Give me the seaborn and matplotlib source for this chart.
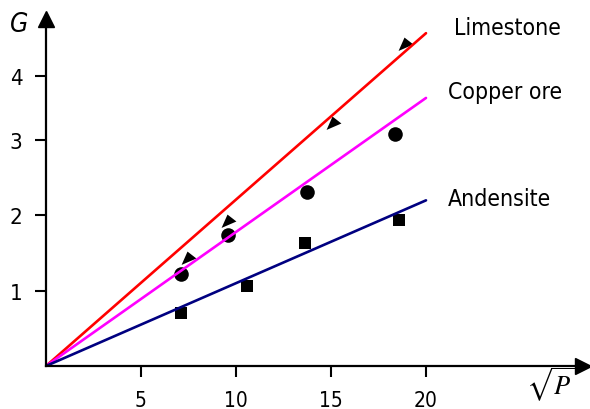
import numpy as np
import pandas as pd
import matplotlib
matplotlib.use('Agg')
import matplotlib.pyplot as plt
import seaborn as sns

# materials and fitted lines (G at sqrt(P) = 20)
materials = ['Limestone', 'Copper ore', 'Andensite']
line_colors = ['#ff0000', '#ff00ff', '#000080']
line_x = [0, 20]
line_end_g = [4.42, 3.56, 2.20]

# measured points
tri_x = [7.47, 9.58, 15.1, 18.9]
tri_g = [1.43, 1.93, 3.23, 4.28]
circ_x = [7.1, 9.58, 13.74, 18.37]
circ_g = [1.22, 1.74, 2.31, 3.08]
sq_x = [7.1, 10.58, 13.63, 18.58]
sq_g = [0.70, 1.06, 1.63, 1.94]

xticks = [5, 10, 15, 20]
xtick_labels = ['5', '10', '15', '20']
yticks = [1, 2, 3, 3.85]
ytick_labels = ['1', '2', '3', '4']

sns.set_style('white')
plt.rcParams['font.family'] = ['DejaVu Sans']
plt.rcParams['font.stretch'] = 'condensed'
plt.rcParams['text.color'] = 'black'
plt.rcParams['mathtext.fontset'] = 'stix'

fig = plt.figure(figsize=(5.9, 4.1), dpi=100)
ax = fig.add_axes([46 / 590, 43 / 410, 537 / 590, 347 / 410])

rows = []
for m, g in zip(materials, line_end_g):
    rows.append({'material': m, 'x': line_x[0], 'g': 0.0})
    rows.append({'material': m, 'x': line_x[1], 'g': g})
lines = pd.DataFrame(rows)
sns.lineplot(data=lines, x='x', y='g', hue='material', palette=line_colors,
             linewidth=1.9, legend=False, ax=ax)

arrowhead = [(16, 0), (-2, 14), (-14, -13), (16, 0)]
sns.scatterplot(x=tri_x, y=tri_g, marker=arrowhead, s=130, color='black',
                edgecolor='black', linewidth=0, ax=ax)
sns.scatterplot(x=circ_x, y=circ_g, marker='o', s=110, color='black',
                edgecolor='black', linewidth=0, ax=ax)
sns.scatterplot(x=sq_x, y=sq_g, marker='s', s=65, color='black',
                edgecolor='black', linewidth=0, ax=ax)

# line labels
label_x = [21.5, 21.16, 21.16]
for m, lx, g in zip(materials, label_x, [4.49, 3.64, 2.23]):
    ax.text(lx, g, m, fontsize=16.5, va='center', ha='left')

ax.set_xlim(0, 537 / 19.0)
ax.set_ylim(0, 347 / 75.3)

for side in ['top', 'right']:
    ax.spines[side].set_visible(False)
for side in ['left', 'bottom']:
    ax.spines[side].set_color('black')
    ax.spines[side].set_linewidth(1.6)

ax.plot(1, 0, '>k', markersize=12, transform=ax.transAxes, clip_on=False)
ax.plot(0, 1, '^k', markersize=12, transform=ax.transAxes, clip_on=False)

ax.set_xticks(xticks)
ax.set_xticklabels(xtick_labels)
ax.set_yticks(yticks)
ax.set_yticklabels(ytick_labels)
ax.tick_params(axis='x', bottom=True, direction='out', length=8, width=1.5, pad=9,
               labelsize=15, colors='black')
ax.tick_params(axis='y', left=True, direction='out', length=8, width=1.5, pad=9,
               labelsize=16, colors='black')
ax.set_xlabel('')
ax.set_ylabel('')

fig.text(19 / 590, 1 - 25 / 410, 'G', fontsize=19, style='italic', ha='center', va='center')
fig.text(551 / 590, 1 - 385 / 410, r'$\sqrt{P}$', fontsize=19, ha='center', va='center')

fig.savefig('out.png', dpi=100)
